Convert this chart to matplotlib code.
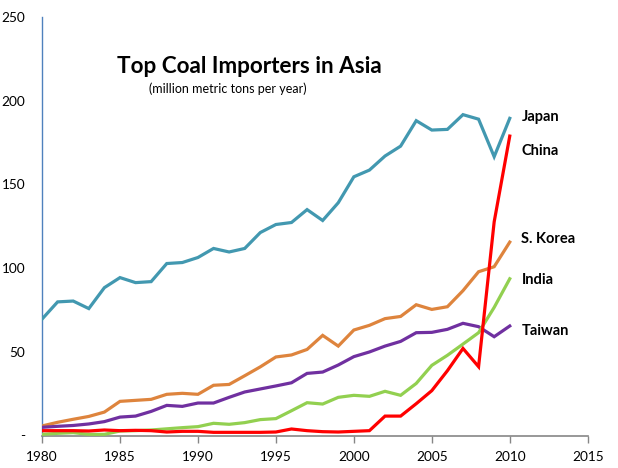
import numpy as np
import matplotlib
matplotlib.use('Agg')
import matplotlib.pyplot as plt

plt.rcParams['font.family'] = ['Lato', 'DejaVu Sans']

years = list(range(1980, 2011))

japan = [69.5, 79.8, 80.3, 75.8, 88.3, 94.3, 91.3, 91.9, 102.7, 103.3,
         106.3, 111.7, 109.6, 111.7, 121.2, 126.0, 127.2, 134.9, 128.4, 139.0,
         154.5, 158.5, 166.9, 172.8, 188.0, 182.4, 182.8, 191.6, 188.9, 166.5,
         189.4]
china = [2.9, 2.9, 2.9, 2.7, 3.3, 2.9, 3.1, 2.9, 2.1, 2.5,
         2.5, 1.9, 1.9, 1.9, 1.9, 2.1, 3.9, 2.9, 2.3, 2.1,
         2.5, 2.9, 11.6, 11.6, 19.0, 26.8, 38.7, 52.0, 41.1, 127.6,
         178.8]
skorea = [5.7, 7.9, 9.7, 11.4, 14.0, 20.4, 21.0, 21.6, 24.6, 25.2,
          24.6, 30.0, 30.5, 35.7, 41.0, 46.9, 48.1, 51.4, 59.8, 53.4,
          63.0, 65.8, 69.8, 71.1, 78.1, 75.3, 76.9, 86.5, 97.8, 100.8,
          115.5]
india = [0.7, 1.3, 1.7, 0.7, 0.7, 2.7, 2.9, 3.3, 4.0, 4.7,
         5.3, 7.3, 6.7, 7.7, 9.5, 10.1, 14.8, 19.6, 18.8, 22.8,
         24.0, 23.4, 26.4, 24.0, 31.1, 41.9, 47.9, 54.6, 61.4, 76.5,
         93.6]
taiwan = [4.9, 5.5, 6.0, 6.9, 8.3, 11.0, 11.6, 14.4, 18.0, 17.4,
          19.4, 19.4, 22.8, 26.0, 27.8, 29.6, 31.5, 37.1, 37.9, 42.1,
          47.1, 49.9, 53.4, 56.2, 61.4, 61.6, 63.4, 67.0, 65.0, 59.0,
          65.4]

names = ['Japan', 'China', 'S. Korea', 'India', 'Taiwan']
colors = ['#4298B0', '#FF0000', '#DE843D', '#92D050', '#7030A0']
label_y = [190.3, 169.9, 117.3, 92.8, 62.6]

yticks = [0, 50, 100, 150, 200, 250]
ytick_labels = ['-', '50', '100', '150', '200', '250']
xticks = [1980, 1985, 1990, 1995, 2000, 2005, 2010, 2015]

fig = plt.figure(figsize=(6.18, 4.68), dpi=100)
ax = fig.add_axes([0.068, 0.0694, 0.883, 0.8946])

series = [japan, china, skorea, india, taiwan]
# draw order: japan, skorea, taiwan, india, china on top
for idx in [0, 2, 4, 3, 1]:
    ax.plot(years, series[idx], color=colors[idx], lw=2.3,
            solid_joinstyle='miter', zorder=3)

for name, col, ly in zip(names, colors, label_y):
    ax.text(2010.75, ly, name, fontsize=10.5, fontweight='bold',
            color='black', va='center', ha='left')

ax.set_xlim(1980, 2015)
ax.set_ylim(0, 250)
ax.set_xticks(xticks)
ax.set_yticks(yticks)
ax.set_yticklabels(ytick_labels)
ax.tick_params(axis='y', length=0, pad=12, labelsize=9.8)
ax.tick_params(axis='x', length=5, width=1, color='#868686', pad=6,
               labelsize=9.8)

for s in ['top', 'right']:
    ax.spines[s].set_visible(False)
ax.spines['left'].set_color('#4F81BD')
ax.spines['left'].set_linewidth(1)
ax.spines['bottom'].set_color('#868686')
ax.spines['bottom'].set_linewidth(1.2)

fig.text(249 / 618, 1 - 67 / 468, 'Top Coal Importers in Asia',
         fontsize=16.2, fontweight='bold', ha='center', va='center')
fig.text(228 / 618, 1 - 89 / 468, '(million metric tons per year)',
         fontsize=9, ha='center', va='center')

fig.savefig('out.png', dpi=100)
